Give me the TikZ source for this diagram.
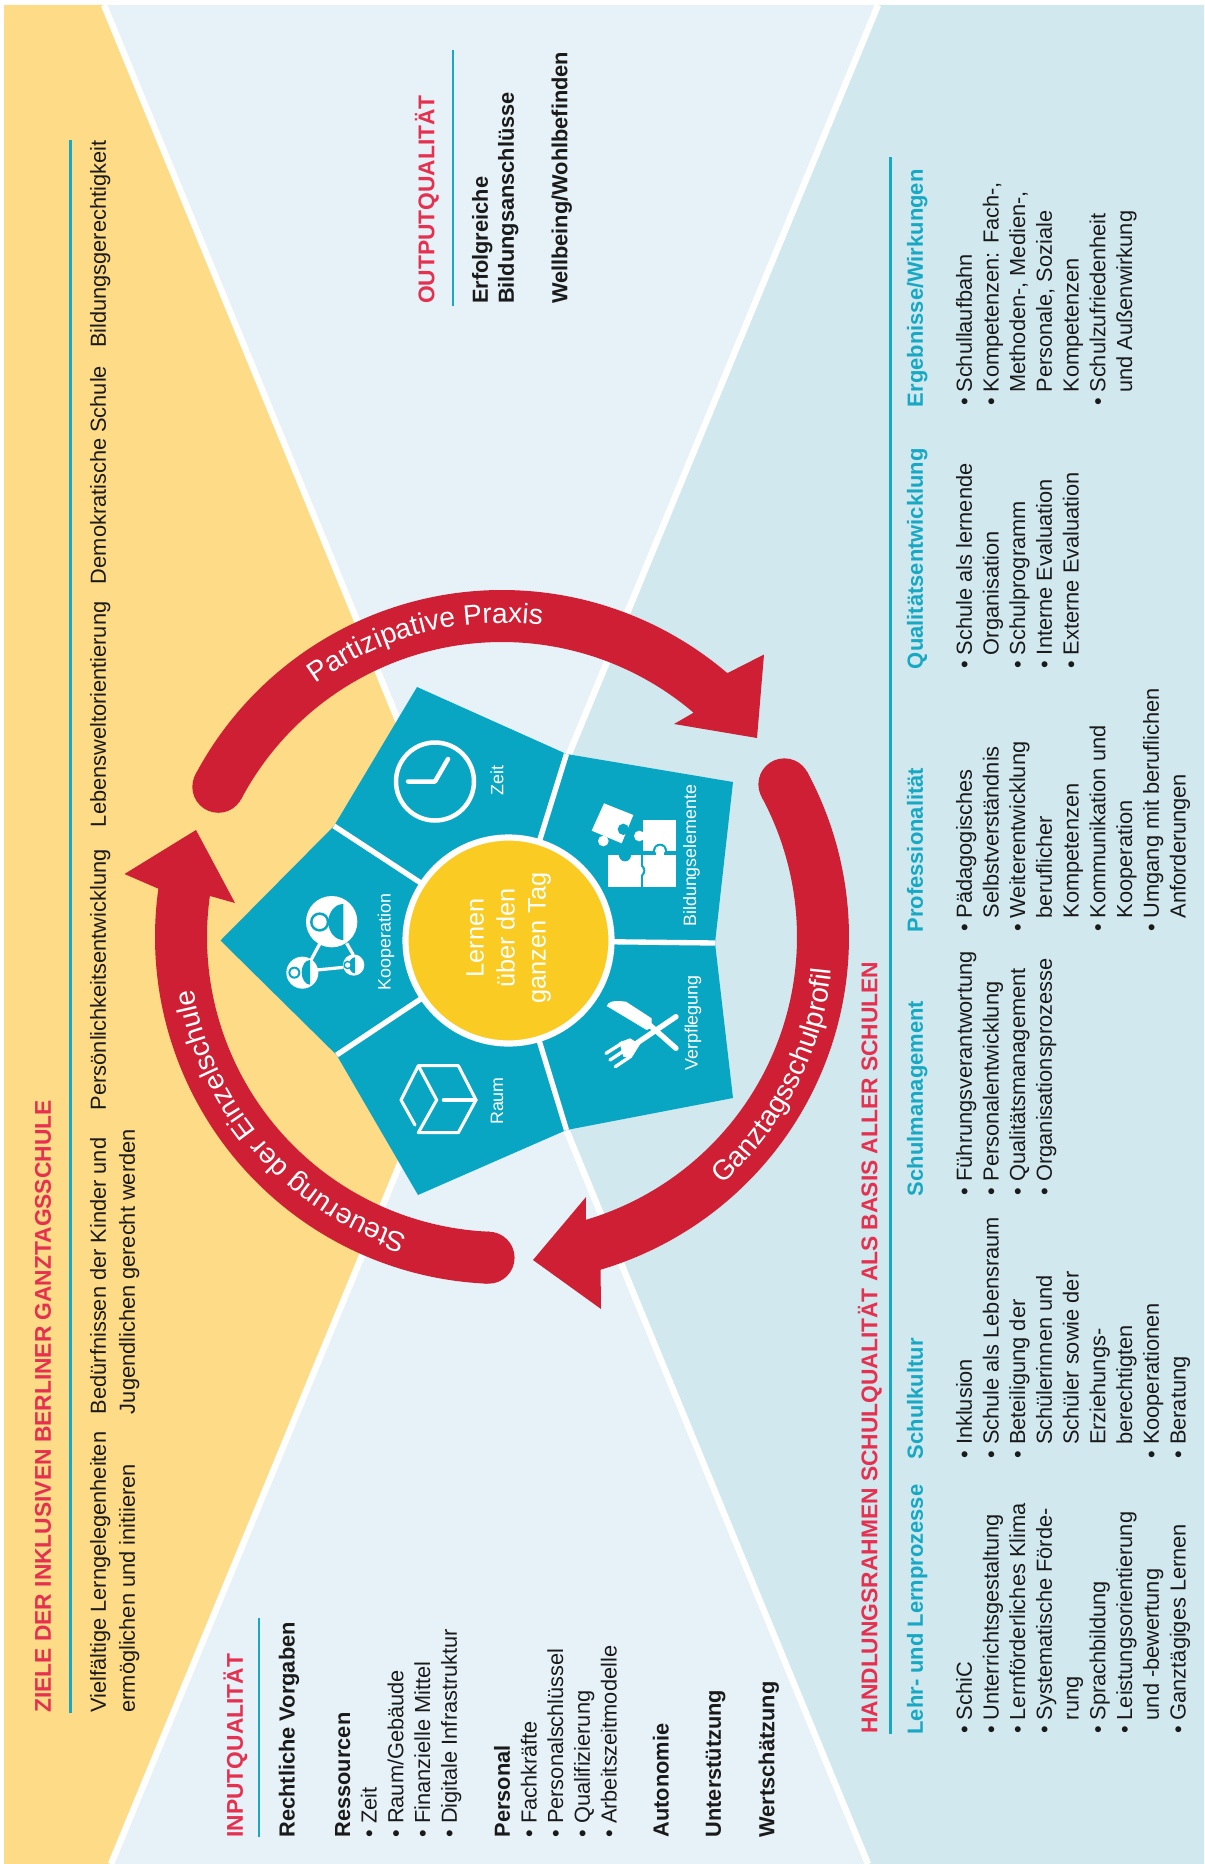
\documentclass[tikz,border=0pt]{standalone}
\usepackage{fontspec}
\setmainfont{Liberation Sans}
\usetikzlibrary{calc,decorations.text}
\definecolor{bgyellow}{HTML}{FDDB87}
\definecolor{bglight}{HTML}{E6F2F7}
\definecolor{bgblue}{HTML}{D1E8EE}
\definecolor{cellteal}{HTML}{09A6C3}
\definecolor{coreyellow}{HTML}{FACB22}
\definecolor{arrowred}{HTML}{CE1F34}
\definecolor{headred}{HTML}{E6304F}
\definecolor{headteal}{HTML}{17A8C4}
\definecolor{inktext}{HTML}{1A1A1A}
\newcommand{\arcfont}{\fontsize{20}{24}\selectfont}
\newcommand{\bul}{\makebox[9.6pt][l]{\textbullet}}
\newcommand{\ind}{\hspace*{9.6pt}}
\tikzset{
  rt/.style={rotate=90,anchor=north west,inner sep=0pt,outer sep=0pt,align=left,text=inktext},
  goaltext/.style={rt,font=\fontsize{15.5}{20.6}\selectfont},
  listtext/.style={rt,font=\fontsize{15.5}{19}\selectfont},
  boldtext/.style={rt,font=\fontsize{15.5}{18.6}\selectfont\bfseries},
  redhead/.style={rt,text=headred,font=\fontsize{16.2}{19}\selectfont\bfseries},
  tealhead/.style={rt,text=headteal,font=\fontsize{15.6}{19}\selectfont\bfseries},
  celllabel/.style={rotate=90,anchor=center,inner sep=0pt,text=white,font=\fontsize{12.7}{15}\selectfont},
  rulerline/.style={draw=headteal,line width=1.6pt},
  whiteline/.style={draw=white,line width=4.6pt},
  iconline/.style={draw=white,line width=2.2pt,line cap=round,line join=round},
  icon/.style={x=.0083333cm,y=-.0083333cm},
}
\begin{document}
\begin{tikzpicture}[x=.025cm,y=.025cm]
\useasboundingbox (0,0) rectangle (1204,-1864);
\fill[white] (0,0) rectangle (1204,-1864);
% backgrounds
\coordinate (X) at (491,-944);
\coordinate (TL) at (104,-5);
\coordinate (TR) at (878,-5);
\coordinate (BL) at (111,-1864);
\coordinate (BR) at (868,-1864);
\fill[bglight] (4,-5) rectangle (1204,-1864);
\fill[bgyellow] (4,-5) -- (TL) -- (X) -- (BL) -- (4,-1864) -- cycle;
\fill[bgblue] (1204,-5) -- (TR) -- (X) -- (BR) -- (1204,-1864) -- cycle;
\draw[whiteline] (TL) -- (BR);
\draw[whiteline] (TR) -- (BL);
% star of cells
\coordinate (C0) at (508.5,-940.5);
\coordinate (tK) at (220.5,-940.5);
\coordinate (vKZ) at (334,-826);
\coordinate (tZ) at (417,-687);
\coordinate (vZB) at (566.5,-754);
\coordinate (tB) at (733,-782);
\coordinate (vBV) at (715,-943);
\coordinate (tV) at (733,-1098);
\coordinate (vVR) at (566.5,-1130);
\coordinate (tR) at (418,-1195);
\coordinate (vRK) at (336.6,-1055);
\fill[cellteal] (tK) -- (vKZ) -- (tZ) -- (vZB) -- (tB) -- (vBV) -- (tV) -- (vVR) -- (tR) -- (vRK) -- cycle;
\foreach \v in {vKZ,vZB,vBV,vVR,vRK} \draw[whiteline,line width=3.8pt] (C0) -- (\v);
\fill[coreyellow,draw=white,line width=4.4pt] (C0) circle[radius=103];
\node[rotate=90,anchor=center,align=center,inner sep=0pt,text=white,font=\fontsize{18}{22}\selectfont] (core) at (508.5,-938) {Lernen\\über den\\ganzen Tag};
\node[celllabel] (lZeit) at (497,-780.5) {Zeit};
\node[celllabel] (lBild) at (691.5,-855.7) {Bildungselemente};
\node[celllabel] (lVerp) at (693,-1023) {Verpflegung};
\node[celllabel] (lRaum) at (497,-1101) {Raum};
\node[celllabel] (lKoop) at (386,-942) {Kooperation};
% clock
\draw[white,line width=3.2pt] (435,-781.5) circle[radius=39];
\draw[iconline,line width=3.2pt] (408,-781.5) -- (435,-781.5) -- (448,-759);
% cube
\begin{scope}[shift={(390,-1050)},icon]
\draw[iconline] (75,225) -- (33,150) -- (85,47) -- (205,47) -- (258,150) -- (205,248) -- (85,248) -- (140,150) -- (85,47);
\draw[iconline] (160,150) -- (258,150);
\end{scope}
% puzzle
\begin{scope}[shift={(580,-780)},icon]
\fill[white] (190,120) rectangle (288,212);
\fill[white] (178,168) circle[radius=16];
\fill[cellteal] (240,212) circle[radius=21];
\fill[white] (188,225) rectangle (288,320);
\fill[white] (240,212) circle[radius=15];
\fill[white] (228,212) rectangle (252,228);
\fill[cellteal] (175,272) circle[radius=21];
\fill[white] (85,225) rectangle (182,320);
\fill[white] (175,272) circle[radius=15];
\fill[cellteal] (135,226) circle[radius=18];
\fill[white] (72,70) -- (160,105) -- (125,190) -- (35,152) -- cycle;
\fill[white] (70,183) circle[radius=16];
\fill[cellteal] (130,148) circle[radius=17];
\end{scope}
% knife and fork
\begin{scope}[shift={(590,-985)},icon]
\fill[white] (50,63) .. controls (55,50) and (68,45) .. (108,50) -- (185,100) -- (185,128) -- (170,135) -- (120,105) -- cycle;
\draw[white,line width=3.8pt,line cap=round] (170,112) -- (258,190);
\draw[white,line width=3.8pt,line cap=round] (258,95) -- (125,185);
\fill[white] (88,172) -- (120,160) -- (150,178) -- (125,218) -- (100,215) -- cycle;
\draw[white,line width=2.4pt,line cap=round] (48,205) -- (100,172);
\draw[white,line width=2.4pt,line cap=round] (60,225) -- (110,192);
\draw[white,line width=2.4pt,line cap=round] (76,245) -- (122,214);
\end{scope}
% cooperation
\begin{scope}[shift={(275,-880)},icon]
\draw[white,line width=2.3pt] (135,190) -- (108,240);
\draw[white,line width=2.3pt] (215,190) -- (235,225);
\draw[white,line width=2.3pt] (125,270) -- (205,262);
\fill[white] (170,125) circle[radius=77];
\fill[cellteal] (205,72) arc[start angle=270,end angle=90,x radius=45,y radius=54] -- cycle;
\fill[cellteal] (134,126) circle[radius=29];
\fill[white] (134,126) circle[radius=21];
\fill[white] (82,278) circle[radius=48];
\fill[cellteal] (105,240) arc[start angle=270,end angle=90,x radius=25,y radius=37] -- cycle;
\fill[cellteal] (58,278) circle[radius=18];
\fill[white] (58,278) circle[radius=12];
\fill[white] (236,255) circle[radius=32];
\fill[cellteal] (240,232) arc[start angle=270,end angle=90,x radius=18,y radius=24] -- cycle;
\fill[cellteal] (218,255) circle[radius=13];
\fill[white] (218,255) circle[radius=8];
\end{scope}
% red arrows
\coordinate (C) at (502,-937);
\fill[arrowred] ($(C)+(152.1:347)$) arc[start angle=152.1,end angle=49.5,radius=347] -- (764,-654.5) -- (757,-738) -- (674,-724) -- ($(C)+(49.5:295)$) arc[start angle=49.5,end angle=152.1,radius=295] -- cycle;
\fill[arrowred] ($(C)+(152.1:321)$) circle[radius=26];
\fill[arrowred] ($(C)+(28.4:347)$) arc[start angle=28.4,end angle=-73.5,radius=347] -- (601,-1309) -- (533,-1260) -- (586,-1197) -- ($(C)+(-73.5:295)$) arc[start angle=-73.5,end angle=28.4,radius=295] -- cycle;
\fill[arrowred] ($(C)+(28.4:321)$) circle[radius=26];
\fill[arrowred] ($(C)+(-92.4:347)$) arc[start angle=-92.4,end angle=-188,radius=347] -- (124.5,-874) -- (196,-830) -- (235,-903) -- ($(C)+(-188:295)$) arc[start angle=-188,end angle=-92.4,radius=295] -- cycle;
\fill[arrowred] ($(C)+(-92.4:321)$) circle[radius=26];
% curved labels
\path[decorate,decoration={text along path,text align=center,text={|\color{white}\arcfont|Partizipative Praxis}}]
  ($(C)+(144.5:314)$) arc[start angle=144.5,end angle=64.5,radius=314];
\path[decorate,decoration={text along path,text align=center,text={|\color{white}\arcfont|Steuerung der Einzelschule}}]
  ($(C)+(-91:313)$) arc[start angle=-91,end angle=-187,radius=313];
\path[decorate,decoration={text along path,text align=center,text={|\color{white}\arcfont|Ganztagsschulprofil}}]
  ($(C)+(-72:331)$) arc[start angle=-72,end angle=18,radius=331];
% goals
\node[redhead] (zielehead) at (35,-1712.5) {ZIELE DER INKLUSIVEN BERLINER GANZTAGSSCHULE};
\draw[rulerline] (70.5,-1712.5) -- (70.5,-140);
\node[goaltext] (g1) at (90,-1712.5) {Vielfältige Lerngelegenheiten\\ermöglichen und initiieren};
\node[goaltext] (g2) at (90,-1414) {Bedürfnissen der Kinder und\\Jugendlichen gerecht werden};
\node[goaltext] (g3) at (90,-1110) {Persönlichkeitsentwicklung};
\node[goaltext] (g4) at (90,-827) {Lebensweltorientierung};
\node[goaltext] (g5) at (90,-584) {Demokratische Schule};
\node[goaltext] (g6) at (90,-348) {Bildungsgerechtigkeit};
% input
\node[redhead] (inhead) at (223.4,-1837.4) {INPUTQUALITÄT};
\draw[rulerline] (259,-1837.4) -- (259,-1618);
\node[boldtext] (in1) at (278.8,-1837.4) {Rechtliche Vorgaben};
\node[listtext] (in2) at (335,-1837.4) {\textbf{Ressourcen}\\\bul Zeit\\\bul Raum/Gebäude\\\bul Finanzielle Mittel\\\bul Digitale Infrastruktur};
\node[listtext] (in3) at (494,-1837.4) {\textbf{Personal}\\\bul Fachkräfte\\\bul Personalschlüssel\\\bul Qualifizierung\\\bul Arbeitszeitmodelle};
\node[boldtext] (in4) at (652.8,-1837.4) {Autonomie};
\node[boldtext] (in5) at (705.7,-1837.4) {Unterstützung};
\node[boldtext] (in6) at (758.5,-1837.4) {Wertschätzung};
% output
\node[redhead] (outhead) at (415,-304) {OUTPUTQUALITÄT};
\draw[rulerline] (453,-306) -- (453,-50);
\node[boldtext] (out1) at (472,-304) {Erfolgreiche\\Bildungsanschlüsse};
\node[boldtext] (out2) at (551.5,-304) {Wellbeing/Wohlbefinden};
% framework
\node[redhead] (hrhead) at (858,-1733.7) {HANDLUNGSRAHMEN SCHULQUALITÄT ALS BASIS ALLER SCHULEN};
\draw[rulerline] (890.5,-1733.7) -- (890.5,-157);
\node[tealhead] (c1h) at (907,-1734.5) {Lehr- und Lernprozesse};
\node[tealhead] (c2h) at (907,-1459) {Schulkultur};
\node[tealhead] (c3h) at (907,-1196) {Schulmanagement};
\node[tealhead] (c4h) at (907,-932.5) {Professionalität};
\node[tealhead] (c5h) at (907,-669) {Qualitätsentwicklung};
\node[tealhead] (c6h) at (907,-407) {Ergebnisse/Wirkungen};
\node[listtext] (c1) at (956,-1733.7) {\bul SchiC\\\bul Unterrichtsgestaltung\\\bul Lernförderliches Klima\\\bul Systematische Förde-\\\ind rung\\\bul Sprachbildung\\\bul Leistungsorientierung\\\ind und -bewertung\\\bul Ganztägiges Lernen};
\node[listtext] (c2) at (956,-1458.4) {\bul Inklusion\\\bul Schule als Lebensraum\\\bul Beteiligung der\\\ind Schülerinnen und\\\ind Schüler sowie der\\\ind Erziehungs-\\\ind berechtigten\\\bul Kooperationen\\\bul Beratung};
\node[listtext] (c3) at (956,-1195) {\bul Führungsverantwortung\\\bul Personalentwicklung\\\bul Qualitätsmanagement\\\bul Organisationsprozesse};
\node[listtext] (c4) at (956,-931.7) {\bul Pädagogisches\\\ind Selbstverständnis\\\bul Weiterentwicklung\\\ind beruflicher\\\ind Kompetenzen\\\bul Kommunikation und\\\ind Kooperation\\\bul Umgang mit beruflichen\\\ind Anforderungen};
\node[listtext] (c5) at (956,-668.5) {\bul Schule als lernende\\\ind Organisation\\\bul Schulprogramm\\\bul Interne Evaluation\\\bul Externe Evaluation};
\node[listtext] (c6) at (956,-406) {\bul Schullaufbahn\\\bul Kompetenzen: Fach-,\\\ind Methoden-, Medien-,\\\ind Personale, Soziale\\\ind Kompetenzen\\\bul Schulzufriedenheit\\\ind und Außenwirkung};
\end{tikzpicture}
\end{document}
